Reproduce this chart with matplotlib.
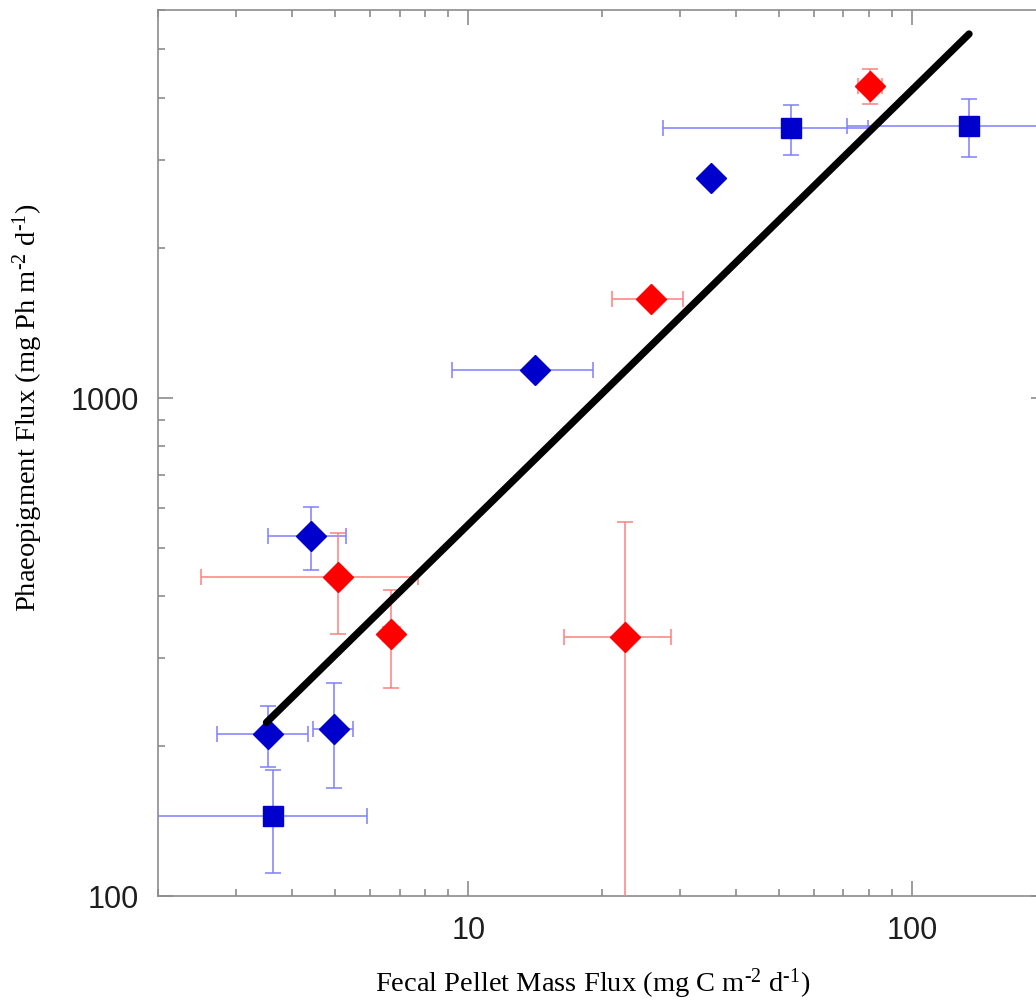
import numpy as np
import matplotlib.pyplot as plt
from matplotlib.ticker import LogLocator, NullFormatter, FixedLocator

plt.rcParams['mathtext.fontset'] = 'custom'
plt.rcParams['mathtext.rm'] = 'Liberation Serif'
plt.rcParams['mathtext.it'] = 'Liberation Serif:italic'

# blue diamonds
bd_x = [3.54, 4.98, 4.42, 14.15, 35.3]
bd_y = [211, 216, 528, 1138, 2754]
bd_xerr = [0.82, 0.51, 0.88, 4.95, 0]
bd_yerr = [29.5, 51, 76, 0, 0]

# blue squares
bs_x = [3.64, 53.4, 134.3]
bs_y = [145, 3470, 3506]
bs_xerr = [2.27, 26, 63]
bs_yerr = [34, 400, 466]

# red diamonds
rd_x = [5.10, 6.71, 22.5, 25.8, 80.5]
rd_y = [436, 336, 331, 1578, 4227]
rd_xerr = [2.6, 0.3, 6.1, 4.7, 5.1]
rd_yerr = [100, 75, 232, 0, 343]

# power-law fit y = a * x^b
fit_a = 74.5
fit_b = 0.873
fit_xrange = [3.51, 134.3]

fig = plt.figure(figsize=(10.36, 10.04), dpi=100)
ax = fig.add_axes([0.1525, 0.1066, 0.857, 0.8825])

ax.errorbar(bs_x, bs_y, xerr=bs_xerr, yerr=bs_yerr, fmt='s', ms=14.4,
            color='#0000cc', mec='#0000cc', ecolor='#7f7fff', elinewidth=1.1,
            capsize=6, capthick=1.1, zorder=3)
ax.errorbar(bd_x, bd_y, xerr=bd_xerr, yerr=bd_yerr, fmt='D', ms=15.5,
            color='#0000cc', mec='#0000cc', ecolor='#7f7fff', elinewidth=1.1,
            capsize=6, capthick=1.1, zorder=3)
ax.errorbar(rd_x, rd_y, xerr=rd_xerr, yerr=rd_yerr, fmt='D', ms=15.5,
            color='#ff0000', mec='#ff0000', ecolor='#ff8080', elinewidth=1.1,
            capsize=6, capthick=1.1, zorder=3)

fx = np.array(fit_xrange)
ax.plot(fx, fit_a * fx ** fit_b, color='black', lw=5.2, solid_capstyle='round', zorder=4)

ax.set_xscale('log')
ax.set_yscale('log')
ax.set_xlim(2, 200)
ax.set_ylim(100, 6000)

ax.xaxis.set_major_locator(FixedLocator([10, 100]))
ax.yaxis.set_major_locator(FixedLocator([100, 1000]))
ax.xaxis.set_minor_locator(LogLocator(base=10, subs=np.arange(2, 10)))
ax.yaxis.set_minor_locator(LogLocator(base=10, subs=np.arange(2, 10)))
ax.xaxis.set_minor_formatter(NullFormatter())
ax.yaxis.set_minor_formatter(NullFormatter())
ax.set_xticklabels(['10', '100'])
ax.set_yticklabels(['100', '1000'])

ax.tick_params(which='both', direction='in', top=True, right=True,
               color='#8c8c8c', width=1.2)
ax.tick_params(which='major', length=11, labelsize=22, pad=14,
               labelcolor='#1e1e1e')
ax.tick_params(which='minor', length=5)
for lbl in ax.get_xticklabels() + ax.get_yticklabels():
    lbl.set_family('Liberation Sans')
for s in ax.spines.values():
    s.set_color('#8c8c8c')
    s.set_linewidth(1.2)

ax.set_xlabel(r'Fecal Pellet Mass Flux (mg C m$^{\text{-2}}$ d$^{\text{-1}}$)',
              family='Liberation Serif', fontsize=20.5)
ax.set_ylabel(r'Phaeopigment Flux (mg Ph m$^{\text{-2}}$ d$^{\text{-1}}$)',
              family='Liberation Serif', fontsize=20.5)
ax.xaxis.set_label_coords(0.49, -0.078)
ax.yaxis.set_label_coords(-0.127, 0.552)

fig.savefig('out.png', dpi=100)
